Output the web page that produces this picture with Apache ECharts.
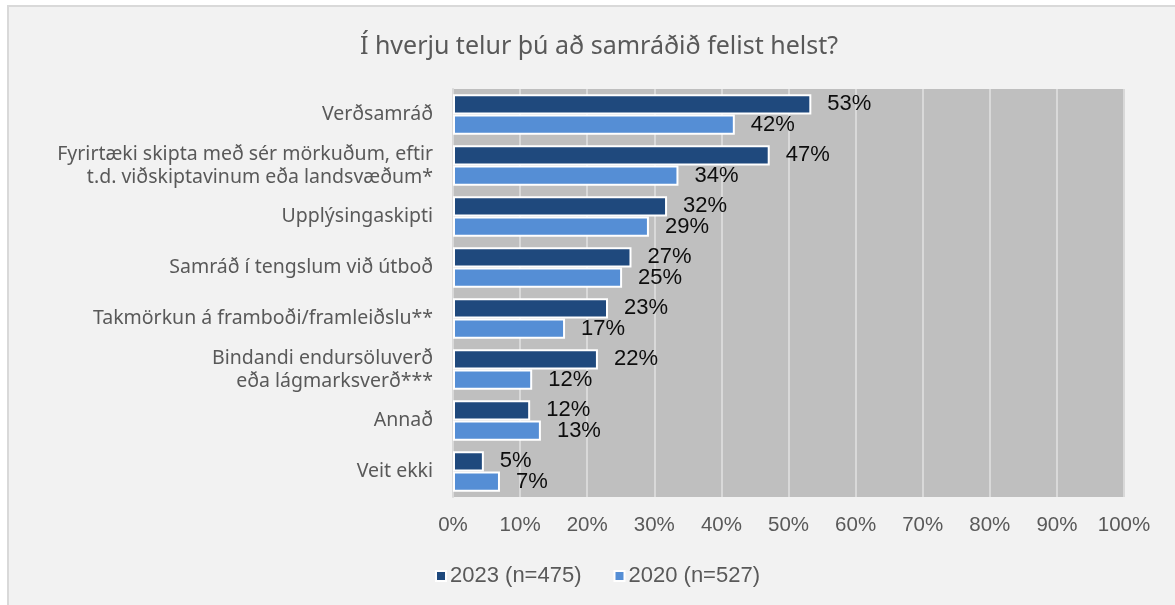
<!DOCTYPE html>
<html>
<head>
<meta charset="utf-8">
<script src="https://cdn.jsdelivr.net/npm/echarts@6/dist/echarts.min.js"></script>
<style>
html,body{margin:0;padding:0;background:#fff;}
#c{width:1175px;height:605px;}
</style>
</head>
<body>
<div id="c"></div>
<script>
const title = 'Í hverju telur þú að samráðið felist helst?';
const categories = [
  'Verðsamráð',
  'Fyrirtæki skipta með sér mörkuðum, eftir\nt.d. viðskiptavinum eða landsvæðum*',
  'Upplýsingaskipti',
  'Samráð í tengslum við útboð',
  'Takmörkun á framboði/framleiðslu**',
  'Bindandi endursöluverð\neða lágmarksverð***',
  'Annað',
  'Veit ekki'
];
const seriesNames = ['2023 (n=475)', '2020 (n=527)'];
const values2023 = [53.4, 47.2, 31.9, 26.6, 23.1, 21.6, 11.5, 4.6];
const values2020 = [42.0, 33.6, 29.2, 25.2, 16.7, 11.8, 13.1, 7.0];
const xTicks = [0, 10, 20, 30, 40, 50, 60, 70, 80, 90, 100];

const chart = echarts.init(document.getElementById('c'));
const labelCfg = {
  show: true, position: 'right', distance: 16,
  color: '#0d0d0d', fontSize: 22, fontFamily: 'Liberation Sans',
  formatter: p => Math.round(p.value) + '%'
};
chart.setOption({
  backgroundColor: '#ffffff',
  animation: false,
  graphic: [{
    type: 'rect', z: -10, silent: true,
    shape: {x: 8, y: 6, width: 1200, height: 620},
    style: {fill: '#f2f2f2', stroke: '#d9d9d9', lineWidth: 2}
  }],
  title: {
    text: title, left: 594, top: 29, textAlign: 'center',
    textStyle: {color: '#595959', fontSize: 25, fontWeight: 'normal', fontFamily: 'Noto Sans'}
  },
  legend: {
    bottom: 13, left: 430, itemWidth: 10, itemHeight: 10, itemGap: 32,
    icon: 'rect',
    textStyle: {color: '#595959', fontSize: 22, fontFamily: 'Liberation Sans', padding: [0, 0, 0, -1]},
    itemStyle: {borderColor: '#ffffff', borderWidth: 2},
    data: seriesNames
  },
  grid: {left: 453, right: 51, top: 89, bottom: 108, show: true, backgroundColor: '#bfbfbf', borderWidth: 0},
  xAxis: {
    type: 'value', min: 0, max: 100, interval: 10,
    axisLabel: {formatter: v => v + '%', color: '#595959', fontSize: 20.5, fontFamily: 'Liberation Sans', margin: 18},
    splitLine: {show: true, lineStyle: {color: '#d9d9d9', width: 2}},
    axisLine: {show: false}, axisTick: {show: false}
  },
  yAxis: {
    type: 'category', data: categories, inverse: true,
    axisLabel: {color: '#595959', fontSize: 19.5, fontFamily: 'Noto Sans', margin: 20, lineHeight: 23, align: 'right'},
    axisLine: {show: true, lineStyle: {color: '#d9d9d9', width: 2}},
    axisTick: {show: false}
  },
  series: [
    {name: seriesNames[0], type: 'bar', data: values2023, barGap: '0%', barCategoryGap: '21%',
     itemStyle: {color: '#1f497d', borderColor: '#ffffff', borderWidth: 2}, label: labelCfg},
    {name: seriesNames[1], type: 'bar', data: values2020, barGap: '0%', barCategoryGap: '21%',
     itemStyle: {color: '#558ed5', borderColor: '#ffffff', borderWidth: 2}, label: labelCfg}
  ]
});
</script>
</body>
</html>
